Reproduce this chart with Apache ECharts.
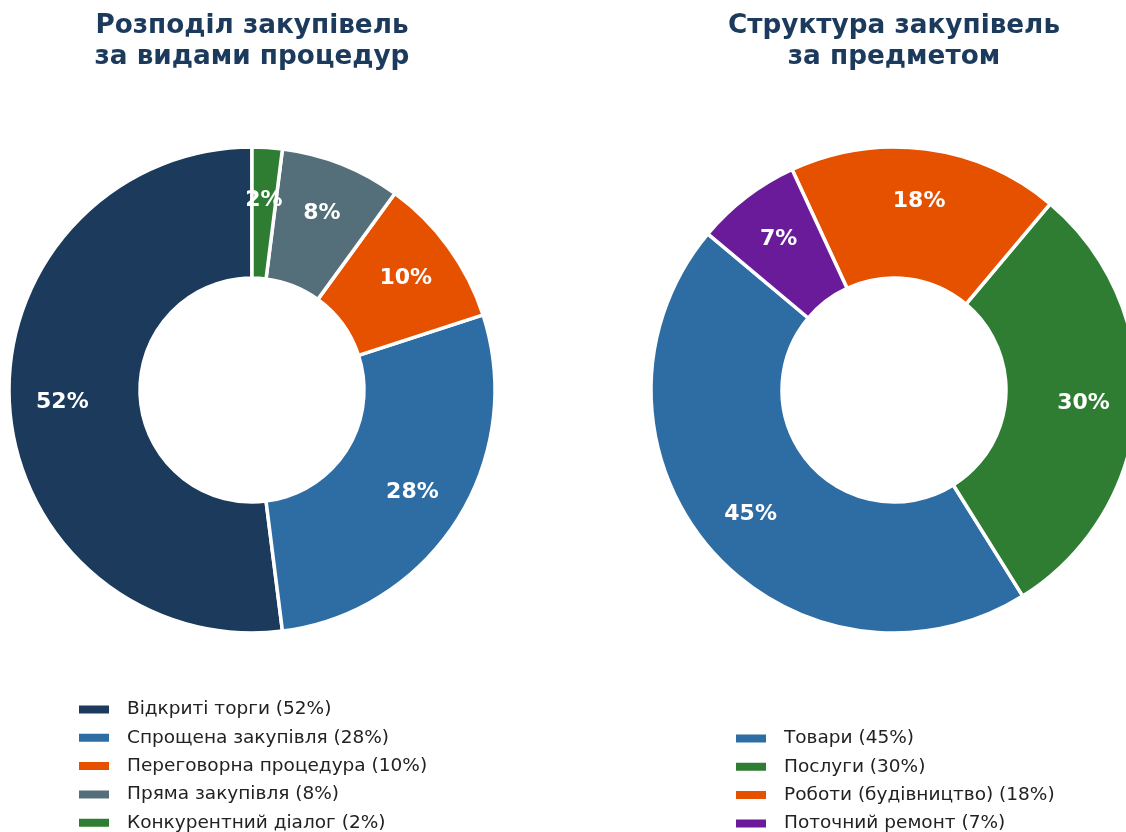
<!DOCTYPE html>
<html>
<head>
<meta charset="UTF-8">
<title>Закупівлі</title>
<script src="https://cdn.jsdelivr.net/npm/echarts@6/dist/echarts.min.js"></script>
<style>
  html, body { margin: 0; padding: 0; background: #fff; }
</style>
</head>
<body>
<div id="main" style="width: 1126px;height:832px;"></div>
<script type="text/javascript">
// дані
var procNames = ['Відкриті торги', 'Спрощена закупівля', 'Переговорна процедура', 'Пряма закупівля', 'Конкурентний діалог'];
var procValues = [52, 28, 10, 8, 2];
var procColors = ['#1b3a5c', '#2e6da4', '#e65100', '#546e7a', '#2e7d32'];

var subjNames = ['Товари', 'Послуги', 'Роботи (будівництво)', 'Поточний ремонт'];
var subjValues = [45, 30, 18, 7];
var subjColors = ['#2e6da4', '#2e7d32', '#e65100', '#6a1b9a'];

var titles = ['Розподіл закупівель\nза видами процедур', 'Структура закупівель\nза предметом'];

var FONT = 'DejaVu Sans';

function makeData(names, values, colors) {
  return names.map(function (n, i) {
    return { name: n + ' (' + values[i] + '%)', value: values[i], itemStyle: { color: colors[i] } };
  });
}

function ring(data, cx, startAngle) {
  return {
    type: 'pie',
    center: [cx, 390],
    radius: [112, 243],
    startAngle: startAngle,
    clockwise: false,
    avoidLabelOverlap: false,
    silent: true,
    itemStyle: { borderColor: '#fff', borderWidth: 3.5 },
    label: { show: false },
    labelLine: { show: false },
    data: data
  };
}

// прозорий шар тільки для підписів (на радіусі ~0.77R)
function labels(data, cx, startAngle) {
  return {
    type: 'pie',
    center: [cx, 390],
    radius: [177, 197],
    startAngle: startAngle,
    clockwise: false,
    avoidLabelOverlap: false,
    silent: true,
    z: 5,
    itemStyle: { color: 'transparent', borderWidth: 0 },
    label: {
      show: true,
      position: 'inside',
      formatter: function (p) { return p.value + '%'; },
      color: '#fff',
      fontFamily: FONT,
      fontWeight: 'bold',
      fontSize: 22
    },
    labelLine: { show: false },
    data: data.map(function (d) { return { name: d.name, value: d.value, itemStyle: { color: 'transparent' } }; })
  };
}

var procData = makeData(procNames, procValues, procColors);
var subjData = makeData(subjNames, subjValues, subjColors);

var legendText = { fontFamily: FONT, fontSize: 18.5, color: '#222', lineHeight: 18, padding: [0, 0, 0, 12] };

var myChart = echarts.init(document.getElementById('main'));
var option = {
  backgroundColor: '#fff',
  animation: false,
  title: [
    {
      text: titles[0], left: 247, top: 6, textAlign: 'center',
      textStyle: { fontFamily: FONT, fontWeight: 'bold', fontSize: 26.3, lineHeight: 31, color: '#1b3a5c' }
    },
    {
      text: titles[1], left: 889, top: 6, textAlign: 'center',
      textStyle: { fontFamily: FONT, fontWeight: 'bold', fontSize: 26.3, lineHeight: 31, color: '#1b3a5c' }
    }
  ],
  legend: [
    {
      orient: 'vertical', left: 77, top: 700, padding: 0, height: 180,
      itemWidth: 32, itemHeight: 10, itemGap: 9.3,
      icon: 'rect',
      data: procData.map(function (d) { return d.name; }),
      textStyle: legendText,
      selectedMode: false
    },
    {
      orient: 'vertical', left: 734, top: 729, padding: 0, height: 180,
      itemWidth: 32, itemHeight: 10, itemGap: 9.3,
      icon: 'rect',
      data: subjData.map(function (d) { return d.name; }),
      textStyle: legendText,
      selectedMode: false
    }
  ],
  series: [
    ring(procData, 252, 90),
    labels(procData, 252, 90),
    ring(subjData, 894, 140),
    labels(subjData, 894, 140)
  ]
};
myChart.setOption(option);
</script>
</body>
</html>
